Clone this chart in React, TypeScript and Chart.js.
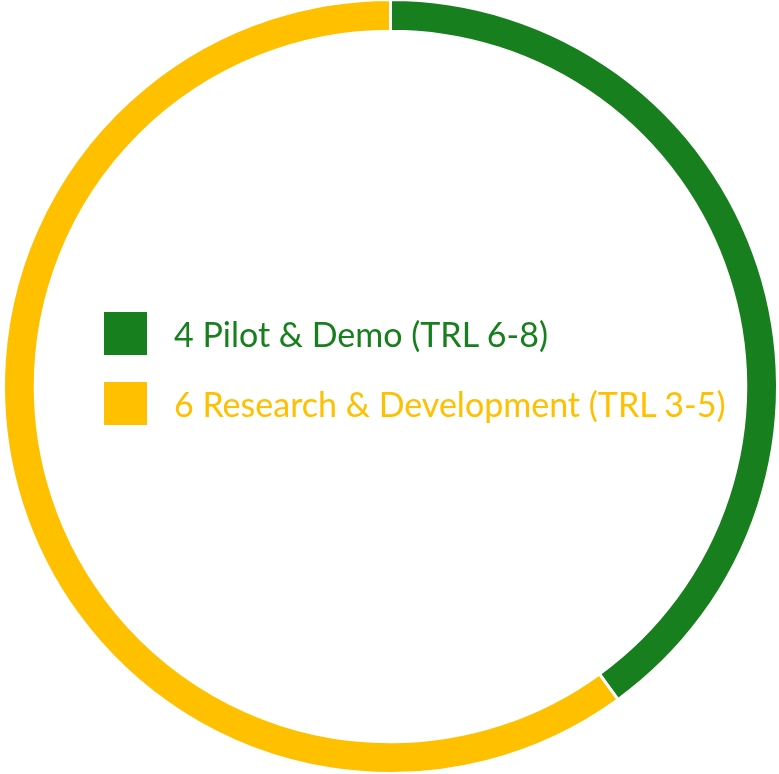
import React, { useEffect, useRef } from "react";
import { Chart, registerables } from "chart.js";

Chart.register(...registerables);

const labels = ["4 Pilot & Demo (TRL 6-8)", "6 Research & Development (TRL 3-5)"];
const values = [4, 6];
const colors = ["#187F1F", "#FFC000"];

export default function App() {
  const ref = useRef<HTMLCanvasElement | null>(null);
  useEffect(() => {
    if (!ref.current) return;
    const chart = new Chart(ref.current, {
      type: "doughnut",
      data: {
        labels,
        datasets: [
          {
            data: values,
            backgroundColor: colors,
            borderColor: "#ffffff",
            borderWidth: 3,
          },
        ],
      },
      options: {
        animation: false,
        responsive: true,
        maintainAspectRatio: false,
        cutout: "91.8%",
        layout: { padding: 0 },
        plugins: { legend: { display: false }, tooltip: { enabled: false } },
      },
    });
    return () => chart.destroy();
  }, []);

  return (
    <div style={{ position: "fixed", left: 0, top: 0, width: 779, height: 774, background: "#fff", overflow: "hidden" }}>
      <div style={{ position: "absolute", left: 2, top: -2, width: 777, height: 777 }}>
        <canvas ref={ref} />
      </div>
      {labels.map((l, i) => (
        <div
          key={l}
          style={{
            position: "absolute",
            left: 104,
            top: 312 + i * 70,
            height: 43,
            display: "flex",
            alignItems: "center",
            whiteSpace: "nowrap",
          }}
        >
          <span style={{ width: 43, height: 43, background: colors[i], display: "inline-block" }} />
          <span
            style={{
              marginLeft: 27,
              color: colors[i],
              fontFamily: "Lato, 'Open Sans', sans-serif",
              fontSize: 34,
              lineHeight: "43px",
            }}
          >
            {l}
          </span>
        </div>
      ))}
    </div>
  );
}
